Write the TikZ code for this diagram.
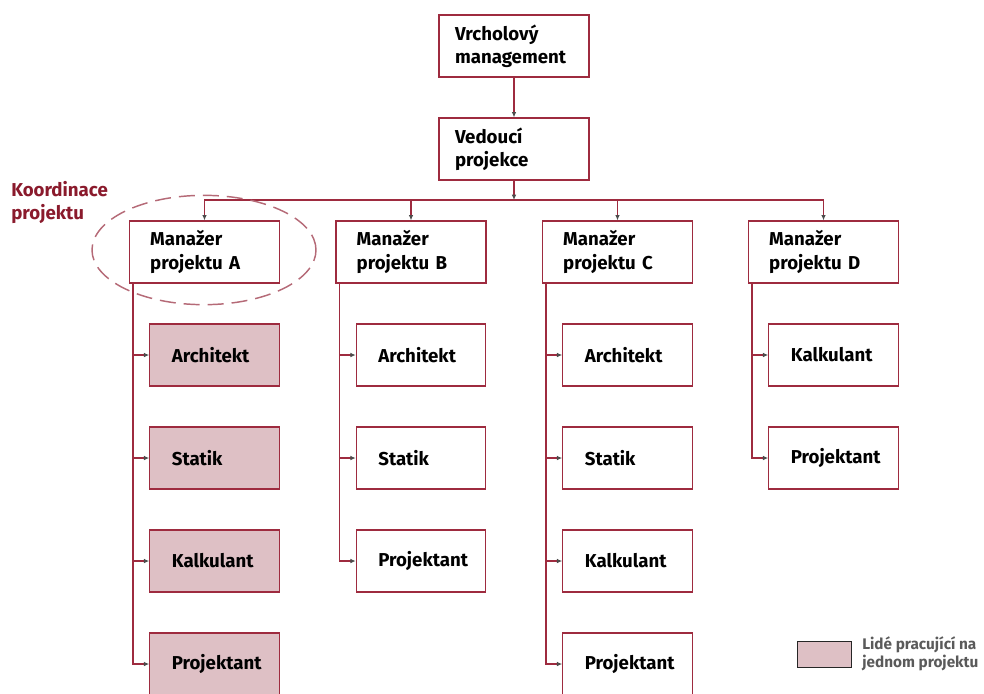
\documentclass[tikz,border=0pt]{standalone}
\usepackage{fontspec}
\setmainfont{Fira Sans}
\usetikzlibrary{arrows.meta,positioning,shapes.geometric}
\definecolor{linered}{HTML}{9E2B3F}
\definecolor{ringred}{HTML}{B56A77}
\definecolor{darkred}{HTML}{8A1A2C}
\definecolor{teampink}{HTML}{DEC0C5}
\definecolor{legendgray}{HTML}{5A5A5A}

\begin{document}
\begin{tikzpicture}[x=0.75pt, y=-0.75pt,
    box/.style = {draw=linered, line width=0.9pt, fill=white, minimum height=46.5pt, align=left, text=black, font=\bfseries\fontsize{14}{17.5}\selectfont},
    head/.style = {box, minimum width=112.5pt, inner xsep=12pt, text width=88.5pt},
    boss/.style = {box, minimum width=112.5pt, inner xsep=15.5pt, text width=81.5pt},
    member/.style = {box, minimum width=97pt, inner xsep=16.5pt, text width=64pt},
    team/.style = {member, fill=teampink},
    link/.style = {draw=linered, line width=0.9pt, -{Latex[length=4pt,width=3.5pt,color=black!70]}}]
    \useasboundingbox (0,0) rectangle (984,693);

    \node[head] (top) at (514,46) {Vrcholový\\management};
    \node[head] (lead) at (514,149) {Vedoucí\\projekce};
    \coordinate (bus) at (514,200);

    \node[boss] (mA) at (204.5,252) {Manažer\\projektu A};
    \node[boss] (mB) at (411,252) {Manažer\\projektu B};
    \node[boss] (mC) at (617.5,252) {Manažer\\projektu C};
    \node[boss] (mD) at (823.5,252) {Manažer\\projektu D};

    % project A
    \node[team] (aArch) at (214.5,355) {Architekt};
    \node[team] (aStat) at (214.5,458) {Statik};
    \node[team] (aKalk) at (214.5,561) {Kalkulant};
    \node[team] (aProj) at (214.5,664) {Projektant};
    % project B
    \node[member] (bArch) at (421,355) {Architekt};
    \node[member] (bStat) at (421,458) {Statik};
    \node[member] (bProj) at (421,561) {Projektant};
    % project C
    \node[member] (cArch) at (627.5,355) {Architekt};
    \node[member] (cStat) at (627.5,458) {Statik};
    \node[member] (cKalk) at (627.5,561) {Kalkulant};
    \node[member] (cProj) at (627.5,664) {Projektant};
    % project D
    \node[member] (dKalk) at (833.5,355) {Kalkulant};
    \node[member] (dProj) at (833.5,458) {Projektant};

    \path[link] (top) -- (lead);
    \path[link] (lead) -- (bus);
    \path[link] (bus) -| (mA);
    \path[link] (bus) -| (mB);
    \path[link] (bus) -| (mC);
    \path[link] (bus) -| (mD);

    \foreach \m/\s in {mA/aArch, mA/aStat, mA/aKalk, mA/aProj,
                       mB/bArch, mB/bStat, mB/bProj,
                       mC/cArch, mC/cStat, mC/cKalk, mC/cProj,
                       mD/dKalk, mD/dProj}
        \path[link] ([xshift=3pt]\m.south west) |- (\s);

    \node[ellipse, draw=ringred, line width=1.1pt, dash pattern=on 12pt off 6pt, minimum width=168pt, minimum height=82pt] (ring) at (204,250) {};
    \node[anchor=north west, inner sep=0pt, align=left, text=darkred, font=\bfseries\fontsize{14}{17.5}\selectfont] (coord) at (11,181) {Koordinace\\projektu};

    % legend
    \node[draw=black!85, line width=0.9pt, fill=teampink, minimum width=41pt, minimum height=19pt, inner sep=0pt] (key) at (824.5,654.5) {};
    \node[anchor=west, align=left, text=legendgray, font=\bfseries\fontsize{11.5}{13.5}\selectfont, inner sep=0pt] (keytext) at (862,654) {Lidé pracující na\\jednom projektu};
\end{tikzpicture}
\end{document}
